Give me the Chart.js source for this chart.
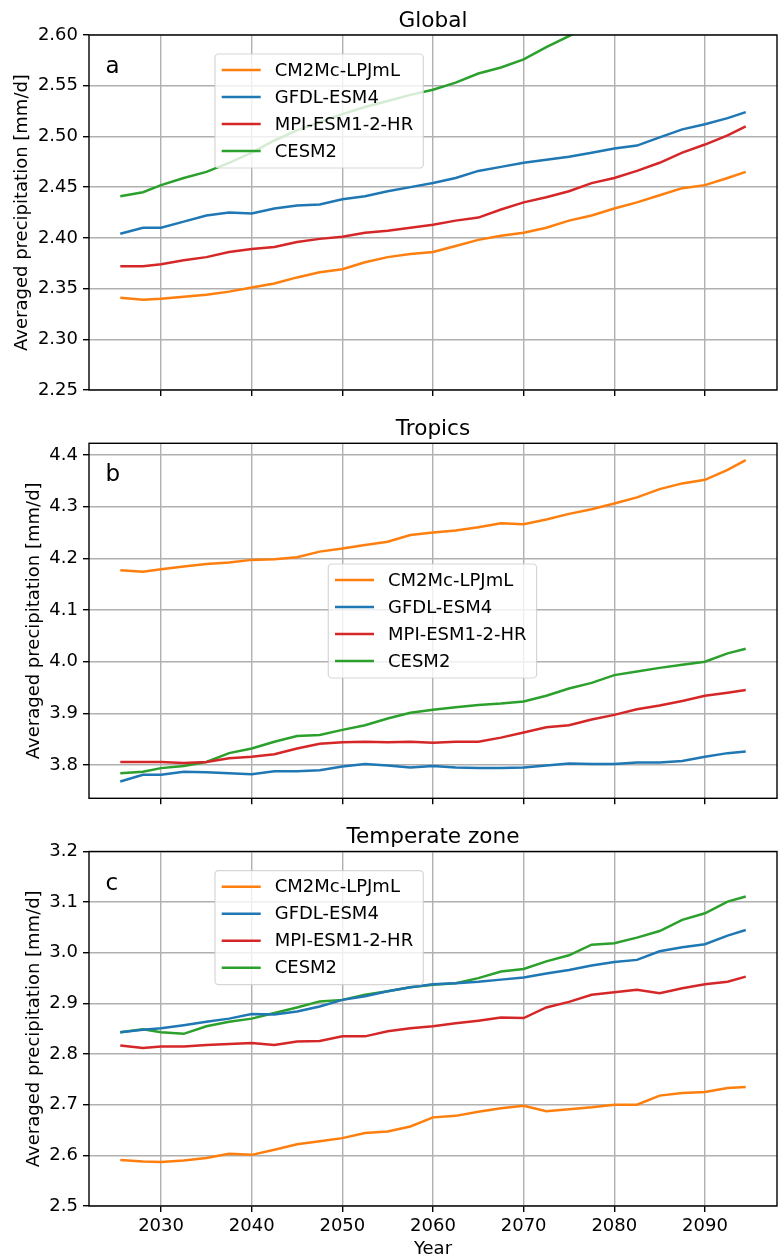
<!DOCTYPE html>
<html>
<head>
<meta charset="utf-8">
<script src="https://cdn.jsdelivr.net/npm/chart.js@4.4.1/dist/chart.umd.min.js"></script>
<style>
  html, body { margin: 0; padding: 0; background: #fff; }
  #page { position: relative; width: 780px; height: 1260px; }
  canvas { position: absolute; left: 0; }
</style>
</head>
<body>
<div id="page">
  <canvas id="chartA" width="780" height="410" style="top:0px"></canvas>
  <canvas id="chartB" width="780" height="410" style="top:410px"></canvas>
  <canvas id="chartC" width="780" height="440" style="top:820px"></canvas>
</div>
<script>
'use strict';

const years = [2025.5, 2028, 2030, 2032.5, 2035, 2037.5, 2040, 2042.5, 2045, 2047.5,
               2050, 2052.5, 2055, 2057.5, 2060, 2062.5, 2065, 2067.5, 2070, 2072.5,
               2075, 2077.5, 2080, 2082.5, 2085, 2087.5, 2090, 2092.5, 2094.5];

const models = ['CM2Mc-LPJmL', 'GFDL-ESM4', 'MPI-ESM1-2-HR', 'CESM2'];
const colors = ['#ff7f0e', '#1f77b4', '#d62728', '#2ca02c'];

// a: Global
const globalCM2 = [2.341, 2.339, 2.340, 2.342, 2.344, 2.347, 2.351, 2.355, 2.361, 2.366,
                   2.369, 2.376, 2.381, 2.384, 2.386, 2.392, 2.398, 2.402, 2.405, 2.410,
                   2.417, 2.422, 2.429, 2.435, 2.442, 2.449, 2.452, 2.459, 2.465];
const globalGFDL = [2.404, 2.410, 2.410, 2.416, 2.422, 2.425, 2.424, 2.429, 2.432, 2.433,
                    2.438, 2.441, 2.446, 2.450, 2.454, 2.459, 2.466, 2.470, 2.474, 2.477,
                    2.480, 2.484, 2.488, 2.491, 2.499, 2.507, 2.512, 2.518, 2.524];
const globalMPI = [2.372, 2.372, 2.374, 2.378, 2.381, 2.386, 2.389, 2.391, 2.396, 2.399,
                   2.401, 2.405, 2.407, 2.410, 2.413, 2.417, 2.420, 2.428, 2.435, 2.440,
                   2.446, 2.454, 2.459, 2.466, 2.474, 2.484, 2.492, 2.501, 2.510];
// CESM2 leaves the top of panel a around 2075
const globalCESM = [2.441, 2.445, 2.452, 2.459, 2.465, 2.474, 2.484, 2.496, 2.506, 2.514,
                    2.522, 2.529, 2.535, 2.541, 2.546, 2.553, 2.562, 2.568, 2.576, 2.588,
                    2.599, 2.610, null, null, null, null, null, null, null];

// b: Tropics
const tropicsCM2 = [4.177, 4.174, 4.179, 4.184, 4.189, 4.192, 4.197, 4.198, 4.202, 4.213,
                    4.219, 4.226, 4.232, 4.245, 4.250, 4.254, 4.260, 4.268, 4.266, 4.275,
                    4.286, 4.295, 4.306, 4.318, 4.334, 4.345, 4.352, 4.371, 4.390];
const tropicsGFDL = [3.768, 3.781, 3.781, 3.787, 3.786, 3.784, 3.782, 3.788, 3.788, 3.790,
                     3.797, 3.802, 3.799, 3.795, 3.798, 3.795, 3.794, 3.794, 3.795, 3.799,
                     3.803, 3.802, 3.802, 3.805, 3.805, 3.808, 3.816, 3.823, 3.826];
const tropicsMPI = [3.806, 3.806, 3.806, 3.804, 3.806, 3.813, 3.816, 3.821, 3.832, 3.841,
                    3.844, 3.845, 3.844, 3.845, 3.843, 3.845, 3.845, 3.853, 3.863, 3.873,
                    3.877, 3.888, 3.897, 3.908, 3.915, 3.924, 3.934, 3.940, 3.945];
const tropicsCESM = [3.784, 3.787, 3.794, 3.798, 3.806, 3.823, 3.832, 3.845, 3.856, 3.858,
                     3.868, 3.877, 3.890, 3.901, 3.907, 3.912, 3.916, 3.919, 3.923, 3.934,
                     3.948, 3.959, 3.974, 3.981, 3.988, 3.994, 4.000, 4.016, 4.025];

// c: Temperate zone
const temperateCM2 = [2.591, 2.588, 2.587, 2.590, 2.595, 2.603, 2.601, 2.611, 2.622, 2.628,
                      2.634, 2.644, 2.647, 2.657, 2.675, 2.678, 2.686, 2.693, 2.698, 2.687,
                      2.691, 2.695, 2.700, 2.700, 2.718, 2.723, 2.725, 2.733, 2.735];
const temperateGFDL = [2.843, 2.848, 2.851, 2.857, 2.864, 2.870, 2.879, 2.878, 2.884, 2.894,
                       2.907, 2.914, 2.924, 2.932, 2.938, 2.940, 2.943, 2.947, 2.951, 2.959,
                       2.966, 2.975, 2.982, 2.986, 3.003, 3.011, 3.017, 3.034, 3.045];
const temperateMPI = [2.817, 2.812, 2.815, 2.815, 2.818, 2.820, 2.822, 2.818, 2.825, 2.826,
                      2.835, 2.835, 2.845, 2.851, 2.855, 2.861, 2.866, 2.872, 2.871, 2.892,
                      2.903, 2.917, 2.922, 2.927, 2.920, 2.930, 2.938, 2.943, 2.953];
const temperateCESM = [2.843, 2.849, 2.843, 2.840, 2.855, 2.864, 2.870, 2.881, 2.892, 2.904,
                       2.907, 2.917, 2.924, 2.932, 2.937, 2.940, 2.950, 2.963, 2.968, 2.983,
                       2.995, 3.016, 3.019, 3.030, 3.043, 3.065, 3.078, 3.101, 3.111];

// tick labels
const yearTicks = [2030, 2040, 2050, 2060, 2070, 2080, 2090];
const globalTicks = [2.25, 2.30, 2.35, 2.40, 2.45, 2.50, 2.55, 2.60];
const tropicsTicks = [3.8, 3.9, 4.0, 4.1, 4.2, 4.3, 4.4];
const temperateTicks = [2.5, 2.6, 2.7, 2.8, 2.9, 3.0, 3.1, 3.2];

Chart.defaults.font.family = '"DejaVu Sans", sans-serif';
Chart.defaults.color = '#000';

// matplotlib-ish extras: full frame, title, panel letter, legend inside the axes
const panelDecor = {
  id: 'panelDecor',
  afterDatasetsDraw(chart, args, opts) {
    const ctx = chart.ctx;
    const a = chart.chartArea;
    ctx.save();

    ctx.strokeStyle = '#000';
    ctx.lineWidth = 1.4;
    ctx.strokeRect(a.left, a.top, a.right - a.left, a.bottom - a.top);

    ctx.fillStyle = '#000';
    ctx.textBaseline = 'alphabetic';
    ctx.textAlign = 'center';
    ctx.font = '21.6px "DejaVu Sans"';
    ctx.fillText(opts.title, (a.left + a.right) / 2, a.top - 8.3);

    ctx.textAlign = 'left';
    ctx.font = '23px "DejaVu Sans"';
    ctx.fillText(opts.letter, a.left + 16.5, a.top + 38);

    // legend box
    const bx = a.left + opts.legendX, by = a.top + opts.legendY;
    const bw = 208.3, bh = 114, r = 3.6;
    ctx.beginPath();
    ctx.moveTo(bx + r, by);
    ctx.arcTo(bx + bw, by, bx + bw, by + bh, r);
    ctx.arcTo(bx + bw, by + bh, bx, by + bh, r);
    ctx.arcTo(bx, by + bh, bx, by, r);
    ctx.arcTo(bx, by, bx + bw, by, r);
    ctx.closePath();
    ctx.fillStyle = 'rgba(255,255,255,0.8)';
    ctx.fill();
    ctx.strokeStyle = 'rgba(204,204,204,0.8)';
    ctx.lineWidth = 1.2;
    ctx.stroke();

    ctx.font = '18px "DejaVu Sans"';
    ctx.textBaseline = 'middle';
    chart.data.datasets.forEach((ds, i) => {
      const yy = by + 16 + 27 * i;
      ctx.strokeStyle = ds.borderColor;
      ctx.lineWidth = 2.5;
      ctx.beginPath();
      ctx.moveTo(bx + 6.7, yy);
      ctx.lineTo(bx + 45.7, yy);
      ctx.stroke();
      ctx.fillStyle = '#000';
      ctx.fillText(ds.label, bx + 59.7, yy + 1);
    });

    ctx.restore();
  }
};

function makePanel(id, cfg) {
  const gridStyle = { color: '#b0b0b0', lineWidth: 1.4, tickColor: '#000', tickWidth: 1.4, tickLength: 6 };
  return new Chart(document.getElementById(id), {
    type: 'line',
    data: {
      datasets: models.map((name, k) => ({
        label: name,
        data: years.map((x, i) => ({ x: x, y: cfg.series[k][i] })),
        borderColor: colors[k],
        backgroundColor: colors[k],
        borderWidth: 2.5,
        pointRadius: 0,
        tension: 0,
        clip: 0
      }))
    },
    options: {
      responsive: false,
      animation: false,
      devicePixelRatio: 1,
      layout: { padding: { top: cfg.padTop, right: 3, bottom: 0, left: 0 } },
      plugins: {
        legend: { display: false },
        tooltip: { enabled: false },
        panelDecor: { title: cfg.title, letter: cfg.letter, legendX: cfg.legendX, legendY: cfg.legendY }
      },
      scales: {
        x: {
          type: 'linear',
          min: 2022.05,
          max: 2097.95,
          afterBuildTicks: s => { s.ticks = yearTicks.map(v => ({ value: v })); },
          afterFit: s => { s.height = cfg.xHeight; },
          grid: gridStyle,
          border: { display: false },
          ticks: { display: cfg.showX, font: { size: 18 }, padding: 4, maxRotation: 0, autoSkip: false,
                   callback: v => String(v) },
          title: { display: cfg.showX, text: 'Year', font: { size: 18 }, padding: 0 }
        },
        y: {
          type: 'linear',
          min: cfg.yMin,
          max: cfg.yMax,
          afterBuildTicks: s => { s.ticks = cfg.ticks.map(v => ({ value: v })); },
          afterFit: s => { s.width = 89; },
          grid: gridStyle,
          border: { display: false },
          ticks: { font: { size: 18 }, padding: 5, autoSkip: false,
                   callback: v => v.toFixed(cfg.decimals) },
          title: { display: true, text: 'Averaged precipitation [mm/d]', font: { size: 18 },
                   padding: { top: cfg.labelPad, bottom: 0 } }
        }
      }
    },
    plugins: [panelDecor]
  });
}

makePanel('chartA', {
  title: 'Global', letter: 'a',
  series: [globalCM2, globalGFDL, globalMPI, globalCESM],
  ticks: globalTicks, yMin: 2.25, yMax: 2.60, decimals: 2,
  padTop: 35, xHeight: 20, showX: false, labelPad: 11.7,
  legendX: 126, legendY: 19
});

makePanel('chartB', {
  title: 'Tropics', letter: 'b',
  series: [tropicsCM2, tropicsGFDL, tropicsMPI, tropicsCESM],
  ticks: tropicsTicks, yMin: 3.7356, yMax: 4.4226, decimals: 1,
  padTop: 33.3, xHeight: 21.7, showX: false, labelPad: 23.2,
  legendX: 239.3, legendY: 120.7
});

makePanel('chartC', {
  title: 'Temperate zone', letter: 'c',
  series: [temperateCM2, temperateGFDL, temperateMPI, temperateCESM],
  ticks: temperateTicks, yMin: 2.5, yMax: 3.2, decimals: 1,
  padTop: 31.5, xHeight: 54, showX: true, labelPad: 23.2,
  legendX: 126, legendY: 19.2
});
</script>
</body>
</html>
